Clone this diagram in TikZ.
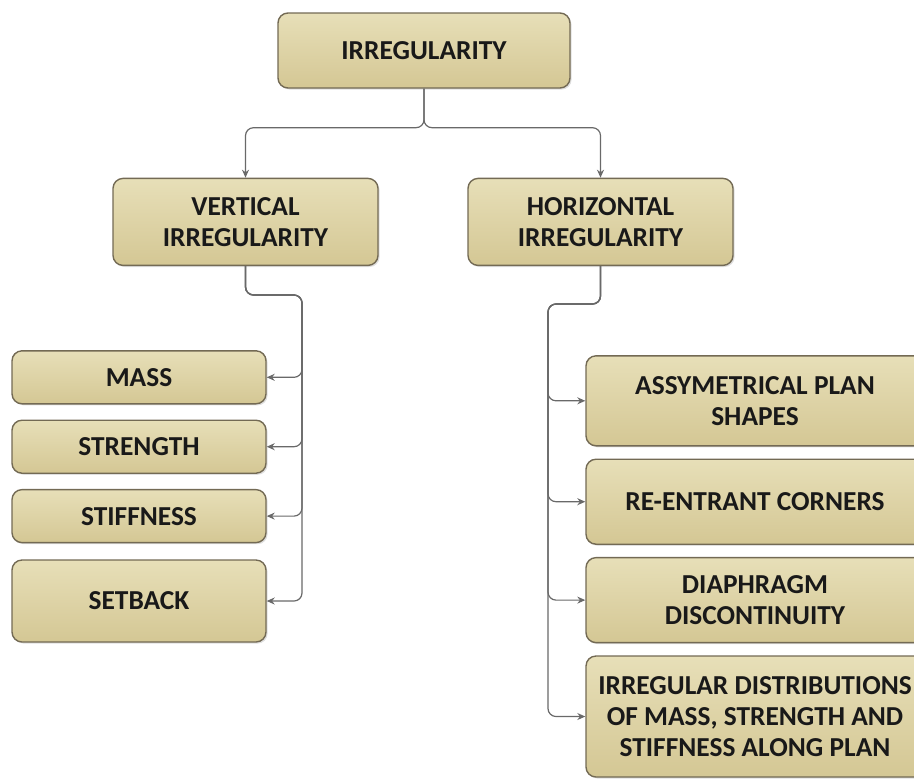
\documentclass[tikz,border=0pt]{standalone}
\usepackage{fontspec}
\setmainfont{Carlito}
\usepackage{xcolor}
\usetikzlibrary{positioning}
\usetikzlibrary{arrows.meta}
\usetikzlibrary{shadows}

\definecolor{boxtop}{RGB}{231,223,184}
\definecolor{boxbot}{RGB}{212,199,148}
\definecolor{boxline}{RGB}{115,106,84}
\definecolor{linkgray}{RGB}{105,105,105}
\definecolor{boxtext}{RGB}{25,25,25}

\begin{document}
\begin{tikzpicture}[box/.style={rectangle, rounded corners=5pt, draw=boxline, line width=0.7pt, top color=boxtop, bottom color=boxbot, drop shadow={opacity=0.25, shadow xshift=0.8pt, shadow yshift=-0.8pt}, text=boxtext, align=center, inner sep=2pt, font=\bfseries\fontsize{13.7}{15.5}\selectfont},
    leftbox/.style={box, minimum width=127pt, minimum height=26.5pt},
    rightbox/.style={box, minimum width=169pt, minimum height=42.5pt},
    link/.style={draw=linkgray, line width=0.6pt, rounded corners=4pt, -{Stealth[length=4pt,width=3.5pt]}}]
        \useasboundingbox (0,0) rectangle (457pt,-389pt);

        % nodes (top and second level)
        \node[box, minimum width=146pt, minimum height=37.5pt] (irr) at (212pt,-25.25pt) {IRREGULARITY};
        \node[box, below=44.5pt of irr, xshift=-89.25pt, minimum width=132.5pt, minimum height=43.5pt] (vert) {VERTICAL\\IRREGULARITY};
        \node[box, below=44.5pt of irr, xshift=88.25pt, minimum width=132.5pt, minimum height=43.5pt] (horiz) {HORIZONTAL\\IRREGULARITY};

        % nodes (vertical irregularity)
        \node[leftbox, below=42pt of vert, xshift=-53.25pt] (mass) {MASS};
        \node[leftbox, below=7.5pt of mass] (strength) {STRENGTH};
        \node[leftbox, below=7.5pt of strength] (stiff) {STIFFNESS};
        \node[leftbox, below=8pt of stiff, minimum height=41pt] (setback) {SETBACK};

        % nodes (horizontal irregularity)
        \node[rightbox, below=44.5pt of horiz, xshift=77.25pt, minimum height=45pt] (plan) {ASSYMETRICAL PLAN\\SHAPES};
        \node[rightbox, below=6pt of plan] (corner) {RE-ENTRANT CORNERS};
        \node[rightbox, below=6pt of corner] (diaph) {DIAPHRAGM\\DISCONTINUITY};
        \node[rightbox, below=6pt of diaph, minimum height=60.5pt] (distr) {IRREGULAR DISTRIBUTIONS\\OF MASS, STRENGTH AND\\STIFFNESS ALONG PLAN};

        % bus points
        \coordinate (vbus) at (151pt,-147.5pt);
        \coordinate (hbus) at (274pt,-152pt);

        % edges (top)
        \draw[link] (irr.south) -- ++(0,-19.5pt) -| (vert.north);
        \draw[link] (irr.south) -- ++(0,-19.5pt) -| (horiz.north);

        % edges (vertical irregularity)
        \draw[link] (vert.south) |- (vbus) |- (mass.east);
        \draw[link] (vert.south) |- (vbus) |- (strength.east);
        \draw[link] (vert.south) |- (vbus) |- (stiff.east);
        \draw[link] (vert.south) |- (vbus) |- (setback.east);

        % edges (horizontal irregularity)
        \draw[link] (horiz.south) |- (hbus) |- (plan.west);
        \draw[link] (horiz.south) |- (hbus) |- (corner.west);
        \draw[link] (horiz.south) |- (hbus) |- (diaph.west);
        \draw[link] (horiz.south) |- (hbus) |- (distr.west);
\end{tikzpicture}
\end{document}
